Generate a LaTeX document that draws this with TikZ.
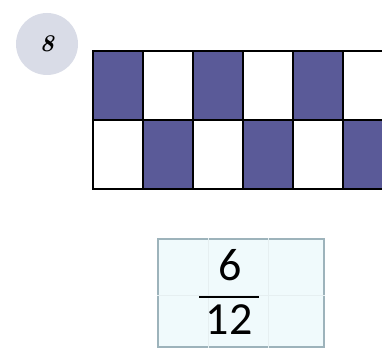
\documentclass[tikz,border=0pt]{standalone}
\usepackage{fontspec}
\newfontfamily\fracfont{Carlito}
\usetikzlibrary{positioning}
\definecolor{shade}{HTML}{5A5A98}
\definecolor{badgefill}{HTML}{D9DCE7}
\definecolor{boxline}{HTML}{9DB3BB}
\definecolor{boxfill}{HTML}{F0FAFC}
\definecolor{faint}{HTML}{E6EFF1}
\begin{document}
\begin{tikzpicture}[x=1pt,y=1pt,
  cell/.style={draw=black,line width=2.6pt,minimum width=50pt,minimum height=69pt,inner sep=0pt,outer sep=0pt},
  badge/.style={circle,fill=badgefill,minimum size=62pt,inner sep=0pt,font=\bfseries\itshape\fontsize{24}{24}\selectfont},
  fracbox/.style={draw=boxline,line width=2.6pt,fill=boxfill,minimum width=166pt,minimum height=108pt,inner sep=0pt},
  digit/.style={inner sep=0pt,font=\fracfont\fontsize{46}{46}\selectfont}]
\useasboundingbox (0,0) rectangle (382,350);
\clip (0,0) rectangle (382,350);
\node[badge] (badge) at (47,306) {8};
% strip of cells, shaded ones alternate
\foreach \c in {0,...,5}{
  \pgfmathtruncatemacro{\top}{mod(\c,2)==0 ? 1 : 0}
  \ifnum\top=1
    \node[cell,fill=shade,anchor=north west] (t\c) at (93+50*\c,299) {};
    \node[cell,fill=white,anchor=north west] (b\c) at (93+50*\c,230) {};
  \else
    \node[cell,fill=white,anchor=north west] (t\c) at (93+50*\c,299) {};
    \node[cell,fill=shade,anchor=north west] (b\c) at (93+50*\c,230) {};
  \fi
}
\node[fracbox] (box) at (241,57) {};
\draw[faint,line width=0.8pt] ([xshift=-33pt]box.north) -- ([xshift=-33pt]box.south);
\draw[faint,line width=0.8pt] ([xshift=27pt]box.north) -- ([xshift=27pt]box.south);
\draw[faint,line width=0.8pt] ([yshift=-2pt]box.west) -- ([yshift=-2pt]box.east);
\node[digit] (num) at (230,85) {6};
\node[digit] (den) at (229,30) {12};
\coordinate (barl) at (199,53);
\coordinate (barr) at (259,53);
\draw[line width=2.6pt] (barl) -- (barr);
\end{tikzpicture}
\end{document}
